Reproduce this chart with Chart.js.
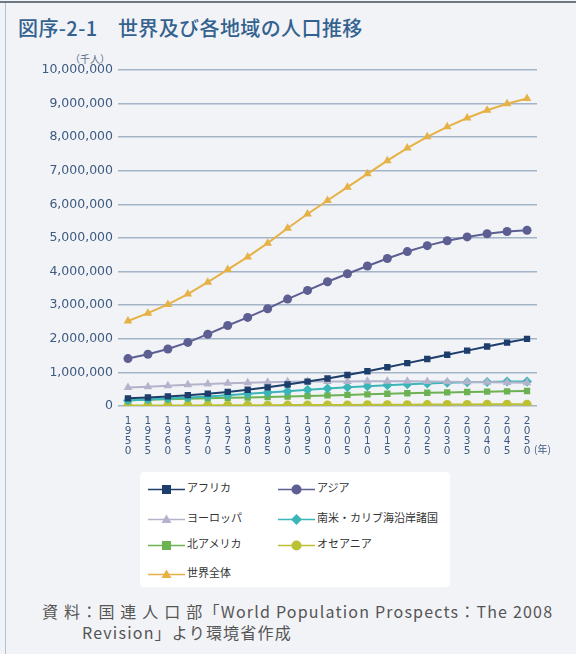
<!DOCTYPE html>
<html><head><meta charset="utf-8">
<script src="https://cdn.jsdelivr.net/npm/chart.js@4"></script>
<style>
html,body{margin:0;padding:0;}
body{width:576px;height:654px;background:#f2f3f7;position:relative;overflow:hidden;font-family:"Noto Sans CJK JP","Noto Sans",sans-serif;}
#topline{position:absolute;left:0;top:1px;width:576px;height:2px;background:#6f7782;}
#leftline{position:absolute;left:5px;top:3px;width:1px;height:651px;background:#a9c3dc;}
#title{position:absolute;left:18px;top:13px;font-size:20px;font-weight:500;color:#33628f;white-space:pre;line-height:30px;letter-spacing:0.4px;}
#unit{position:absolute;left:70px;top:51px;font-size:10px;color:#5a6f88;}
#nen{position:absolute;left:534px;top:441px;font-size:10px;color:#3d5a80;}
canvas{position:absolute;left:0;top:0;}
#legend{position:absolute;left:140px;top:472px;width:310px;height:115px;background:#fff;border-radius:4px;}
.li{position:absolute;font-size:11px;color:#333;height:20px;line-height:20px;white-space:nowrap;}
.li svg{vertical-align:middle;margin-right:2px;}
.src{position:absolute;font-size:16px;color:#555;line-height:21px;white-space:pre;letter-spacing:1.2px;}
</style></head>
<body>
<div id="topline"></div><div id="leftline"></div>
<div id="title">図序-2-1　世界及び各地域の人口推移</div>
<div id="unit">（千人）</div>
<canvas id="c" width="576" height="470"></canvas>
<div id="nen">(年)</div>
<div id="legend"></div>
<div class="src" style="left:42px;top:601px;">資 料：国 連 人 口 部「World Population Prospects：The 2008</div>
<div class="src" style="left:82px;top:622px;">Revision」より環境省作成</div>
<script>
const years = [1950,1955,1960,1965,1970,1975,1980,1985,1990,1995,2000,2005,2010,2015,2020,2025,2030,2035,2040,2045,2050];
const africa = [227,254,285,322,367,419,482,556,639,726,819,921,1033,1153,1276,1400,1524,1648,1770,1887,1998].map(v=>v*1000);
const asia = [1411,1541,1697,1893,2137,2395,2636,2896,3181,3440,3698,3937,4167,4391,4596,4773,4917,5032,5125,5193,5231].map(v=>v*1000);
const europe = [547,576,605,635,657,677,694,706,721,727,727,731,733,734,733,729,723,716,709,700,691].map(v=>v*1000);
const latinAmerica = [167,191,220,253,286,323,362,402,442,482,521,557,589,618,646,670,690,706,718,726,729].map(v=>v*1000);
const northAmerica = [172,187,204,219,231,242,254,267,282,299,316,331,348,364,379,393,405,416,426,436,445].map(v=>v*1000);
const oceania = [12.8,14.3,15.9,17.6,19.7,21.5,22.8,24.8,27.0,29.1,31.2,33.4,35.8,38.1,40.5,42.7,44.9,46.9,48.9,50.6,51.3].map(v=>v*1000);
const world = [2529,2763,3023,3332,3686,4061,4438,4846,5290,5713,6115,6512,6909,7302,7675,8012,8309,8571,8801,8996,9150].map(v=>v*1000);
const yTicks = [0,1000000,2000000,3000000,4000000,5000000,6000000,7000000,8000000,9000000,10000000];

const series = [
  {label:'アフリカ', data:africa, color:'#1d3d6b', style:'rect', r:4.5},
  {label:'アジア', data:asia, color:'#5d5e92', style:'circle', r:4.5},
  {label:'ヨーロッパ', data:europe, color:'#b3b3cc', style:'triangle', r:5},
  {label:'南米・カリブ海沿岸諸国', data:latinAmerica, color:'#3ab5b8', style:'rectRot', r:5},
  {label:'北アメリカ', data:northAmerica, color:'#6db252', style:'rect', r:4.5},
  {label:'オセアニア', data:oceania, color:'#bcc133', style:'circle', r:4.5},
  {label:'世界全体', data:world, color:'#e6b245', style:'triangle', r:5}
];

new Chart(document.getElementById('c'), {
  type:'line',
  data:{
    labels: years.map(y=>String(y).split('')),
    datasets: series.map(s=>({label:s.label,data:s.data,borderColor:s.color,backgroundColor:s.color,
      pointStyle:s.style,pointRadius:s.r,pointBorderWidth:0,borderWidth:2,tension:0}))
  },
  options:{
    responsive:false, animation:false, devicePixelRatio:1,
    layout:{padding:{top:70,right:39,left:0,bottom:0}},
    plugins:{legend:{display:false},tooltip:{enabled:false}},
    scales:{
      x:{type:'category',offset:true,
        grid:{display:false},border:{display:false},
        ticks:{autoSkip:false,maxRotation:0,minRotation:0,padding:2,color:'#3d5a80',
          font:{family:'"DejaVu Sans"',size:10.5,lineHeight:'10px'}},
        afterFit:(s)=>{s.height=64;}
      },
      y:{min:0,max:10000000,
        afterBuildTicks:(s)=>{s.ticks=yTicks.map(v=>({value:v}));},
        grid:{color:'#a3b4c7',lineWidth:1.6,drawTicks:false},border:{display:false},
        ticks:{padding:5,color:'#3d5a80',font:{family:'"DejaVu Sans"',size:12.5},
          callback:(v)=>v.toLocaleString('en-US')},
        afterFit:(s)=>{s.width=118;}
      }
    }
  }
});

// legend
const pos = [[0,0],[1,0],[0,1],[1,1],[0,2],[1,2],[0,3]];
const lg = document.getElementById('legend');
function marker(style,c){
  if(style==='rect') return `<rect x="14" y="5" width="9" height="9" fill="${c}"/>`;
  if(style==='circle') return `<circle cx="18.5" cy="9.5" r="5" fill="${c}"/>`;
  if(style==='triangle') return `<polygon points="18.5,4.5 23.5,13 13.5,13" fill="${c}"/>`;
  if(style==='rectRot') return `<polygon points="18.5,4 24,9.5 18.5,15 13,9.5" fill="${c}"/>`;
}
series.forEach((s,i)=>{
  const d=document.createElement('div');
  d.className='li';
  const [cx,ry]=pos[i];
  d.style.left=(cx===0?8:138)+'px';
  d.style.top=([5,35,61,90][ry])+'px';
  d.innerHTML=`<svg width="37" height="19"><line x1="0" y1="9.5" x2="37" y2="9.5" stroke="${s.color}" stroke-width="1.6"/>${marker(s.style,s.color)}</svg>${s.label}`;
  lg.appendChild(d);
});
</script>
</body></html>
